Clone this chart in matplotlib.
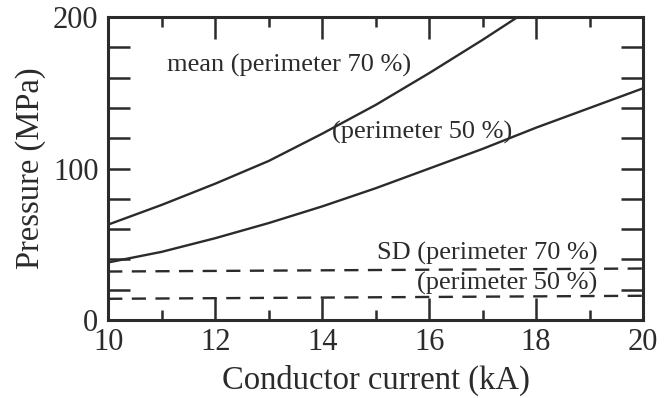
import numpy as np
import matplotlib
matplotlib.use('Agg')
import matplotlib.pyplot as plt
from matplotlib.ticker import MultipleLocator

# values
current = [10, 11, 12, 13, 14, 15, 16, 17, 18, 19, 20]
mean_70 = [63, 76, 90, 105, 123, 142, 163, 185, 208, 232, 257]
mean_50 = [38, 45, 54, 64, 75, 87, 100, 113, 127, 140, 153]
sd_70 = [32, 32.2, 32.4, 32.6, 32.8, 33, 33.2, 33.4, 33.6, 33.8, 34]
sd_50 = [14, 14.2, 14.4, 14.6, 14.8, 15, 15.2, 15.4, 15.6, 15.8, 16]

ink = '#2b2b2b'
plt.rcParams['font.family'] = ['Liberation Serif', 'DejaVu Serif']

fig = plt.figure(figsize=(6.72, 3.98), dpi=100)
ax = fig.add_axes([0.161, 0.196, 0.796, 0.761])

ax.plot(current, mean_70, color=ink, lw=1.7)
ax.plot(current, mean_50, color=ink, lw=1.7)
ax.plot(current, sd_70, color=ink, lw=1.7, dashes=(6, 4))
ax.plot(current, sd_50, color=ink, lw=1.7, dashes=(6, 4))

ax.set_xlim(10, 20)
ax.set_ylim(0, 200)

ax.xaxis.set_major_locator(MultipleLocator(2))
ax.xaxis.set_minor_locator(MultipleLocator(1))
ax.yaxis.set_major_locator(MultipleLocator(100))
ax.yaxis.set_minor_locator(MultipleLocator(20))
ax.tick_params(which='both', direction='in', top=True, right=True,
               color=ink, width=1.8, labelsize=22, labelcolor=ink)
ax.tick_params(axis='x', which='major', length=16, pad=6)
ax.tick_params(axis='x', which='minor', length=7)
ax.tick_params(axis='y', which='both', length=16, pad=7)

for s in ax.spines.values():
    s.set_linewidth(2.2)
    s.set_color(ink)

ax.set_xlabel('Conductor current (kA)', fontsize=23.5, color=ink, labelpad=5)
ax.set_ylabel('Pressure (MPa)', fontsize=23.5, color=ink, labelpad=5)

fs = 19
ax.text(11.1, 168, 'mean (perimeter 70 %)', fontsize=fs, color=ink, va='center')
ax.text(14.19, 124, '(perimeter 50 %)', fontsize=fs, color=ink, va='center')
ax.text(15.03, 44, 'SD (perimeter 70 %)', fontsize=fs, color=ink, va='center')
ax.text(15.78, 24, '(perimeter 50 %)', fontsize=fs, color=ink, va='center')

fig.savefig('out.png', dpi=100)
